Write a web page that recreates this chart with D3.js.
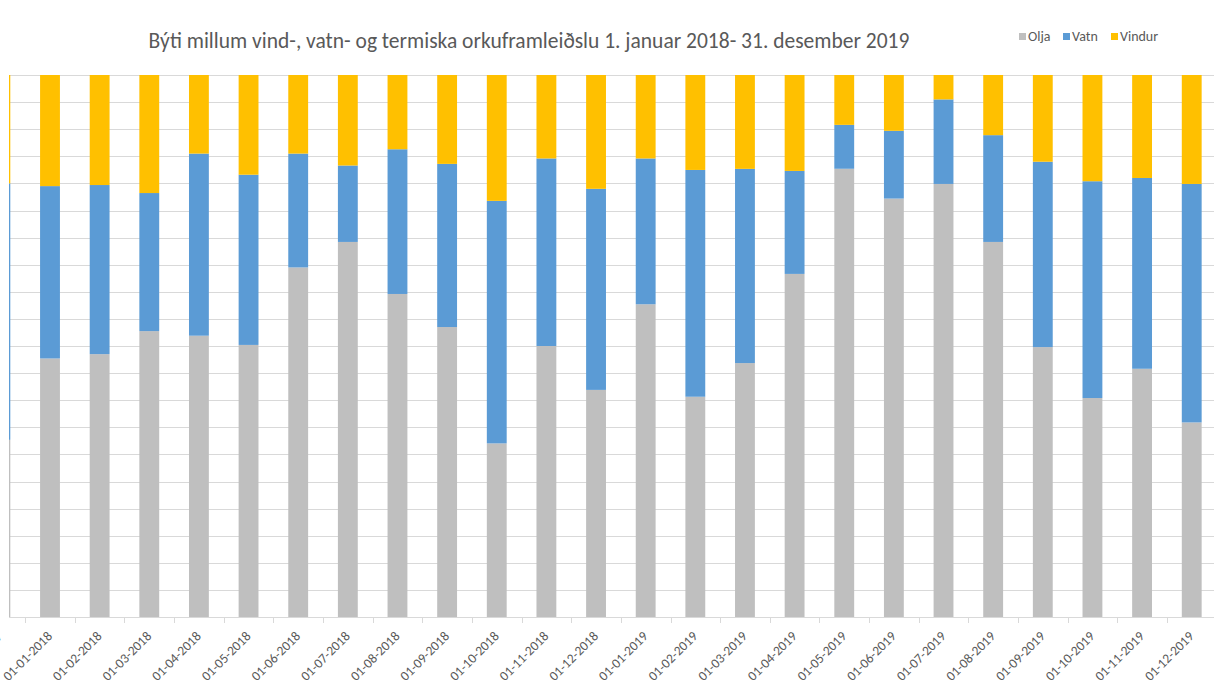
<!DOCTYPE html>
<html lang="fo">
<head>
    <meta charset="UTF-8">
    <title>Býti millum vind-, vatn- og termiska orkuframleiðslu</title>
    <script src="https://d3js.org/d3.v7.min.js"></script>
    <style>
      body { margin: 0; background: #fff; }
      text { font-family: Calibri, Carlito, Lato, "Liberation Sans", sans-serif; fill: #595959; }
    </style>
</head>
<body>
  <script>

    // months (the first one is only partly visible at the left edge)
    var categories = ["01-12-2017",
      "01-01-2018", "01-02-2018", "01-03-2018", "01-04-2018", "01-05-2018", "01-06-2018",
      "01-07-2018", "01-08-2018", "01-09-2018", "01-10-2018", "01-11-2018", "01-12-2018",
      "01-01-2019", "01-02-2019", "01-03-2019", "01-04-2019", "01-05-2019", "01-06-2019",
      "01-07-2019", "01-08-2019", "01-09-2019", "01-10-2019", "01-11-2019", "01-12-2019"];

    // share of production, %
    var olja   = [32.7, 47.7, 48.5, 52.8, 51.9, 50.2, 64.5, 69.2, 59.6, 53.5, 32.0, 50.0, 41.9,
                  57.7, 40.6, 46.8, 63.3, 82.7, 77.2, 79.9, 69.2, 49.8, 40.4, 45.8, 35.9];
    var vatn   = [47.3, 31.8, 31.2, 25.5, 33.6, 31.4, 21.0, 14.1, 26.7, 30.1, 44.7, 34.6, 37.1,
                  26.9, 41.8, 35.8, 19.0,  8.1, 12.5, 15.6, 19.7, 34.2, 40.0, 35.2, 44.0];
    var vindur = [20.0, 20.5, 20.3, 21.8, 14.5, 18.4, 14.5, 16.7, 13.7, 16.4, 23.2, 15.4, 21.0,
                  15.4, 17.5, 17.3, 17.7,  9.2, 10.3,  4.5, 11.1, 16.0, 19.6, 19.0, 20.1];

    var seriesNames = ["Olja", "Vatn", "Vindur"];
    var seriesColors = ["#BFBFBF", "#5B9BD5", "#FFC000"];
    var yTicks = d3.range(0, 1.0001, 0.05);

    var W = 1214, H = 697;
    var plot = {left: 9, top: 75, right: 1214, bottom: 617};
    var step = 49.64;

    var svg = d3.select("body").append("svg")
        .attr("width", W)
        .attr("height", H);

    svg.append("defs").append("clipPath").attr("id", "plotclip")
      .append("rect")
        .attr("x", plot.left).attr("y", plot.top - 1)
        .attr("width", plot.right - plot.left).attr("height", plot.bottom - plot.top + 2);

    // build rows for the stack
    var data = categories.map(function(c, i) {
      return {month: c, Olja: olja[i], Vatn: vatn[i], Vindur: vindur[i]};
    });

    var x = d3.scaleBand()
        .domain(categories)
        .range([50 - 1.5 * step, 50 - 1.5 * step + categories.length * step])
        .paddingInner(0.6)
        .paddingOuter(0.3);

    var y = d3.scaleLinear()
        .domain([0, 1])
        .range([plot.bottom, plot.top]);

    var color = d3.scaleOrdinal().domain(seriesNames).range(seriesColors);

    // horizontal gridlines
    svg.append("g")
      .selectAll("line")
      .data(yTicks)
      .enter().append("line")
        .attr("x1", plot.left).attr("x2", plot.right)
        .attr("y1", function(d) { return Math.round(y(d)) + 0.5; })
        .attr("y2", function(d) { return Math.round(y(d)) + 0.5; })
        .attr("stroke", "#D9D9D9")
        .attr("stroke-width", 1);

    // left edge
    svg.append("line")
        .attr("x1", plot.left + 0.5).attr("x2", plot.left + 0.5)
        .attr("y1", plot.top).attr("y2", plot.bottom)
        .attr("stroke", "#D9D9D9");

    var stackedData = d3.stack()
        .keys(seriesNames)
        .offset(d3.stackOffsetExpand)(data);

    svg.append("g")
        .attr("clip-path", "url(#plotclip)")
      .selectAll("g")
      .data(stackedData)
      .enter().append("g")
        .attr("fill", function(d) { return color(d.key); })
      .selectAll("rect")
      .data(function(d) { return d; })
      .enter().append("rect")
        .attr("x", function(d) { return x(d.data.month); })
        .attr("y", function(d) { return y(d[1]); })
        .attr("height", function(d) { return y(d[0]) - y(d[1]); })
        .attr("width", x.bandwidth());

    // bottom axis: ticks between the months, labels under the bars
    var xAxis = svg.append("g");
    xAxis.append("line")
        .attr("x1", plot.left).attr("x2", plot.right)
        .attr("y1", plot.bottom + 0.5).attr("y2", plot.bottom + 0.5)
        .attr("stroke", "#D9D9D9");

    xAxis.selectAll(".tick")
      .data(categories.slice(1))
      .enter().append("line")
        .attr("x1", function(d) { return Math.round(x(d) - step * 0.3) + 0.5; })
        .attr("x2", function(d) { return Math.round(x(d) - step * 0.3) + 0.5; })
        .attr("y1", plot.bottom).attr("y2", plot.bottom + 6)
        .attr("stroke", "#D9D9D9");

    xAxis.selectAll("text")
      .data(categories)
      .enter().append("text")
        .attr("transform", function(d) {
          return "translate(" + (x(d) + x.bandwidth() / 2 + 3) + "," + (plot.bottom + 20) + ") rotate(-45)";
        })
        .attr("text-anchor", "end")
        .style("font-size", "13.5px")
        .text(function(d) { return d; });

    // title
    svg.append("text")
        .attr("x", 529)
        .attr("y", 48)
        .attr("text-anchor", "middle")
        .style("font-size", "21.5px")
        .text("Býti millum vind-, vatn- og termiska orkuframleiðslu 1. januar 2018- 31. desember 2019");

    // legend
    var legendX = [1019, 1063, 1111];
    var legend = svg.append("g")
      .selectAll("g")
      .data(seriesNames)
      .enter().append("g")
        .attr("transform", function(d, i) { return "translate(" + legendX[i] + ",33)"; });

    legend.append("rect")
        .attr("width", 7).attr("height", 7)
        .attr("fill", function(d) { return color(d); });

    legend.append("text")
        .attr("x", 9).attr("y", 8)
        .style("font-size", "14px")
        .text(function(d) { return d; });

  </script>
</body>
</html>
